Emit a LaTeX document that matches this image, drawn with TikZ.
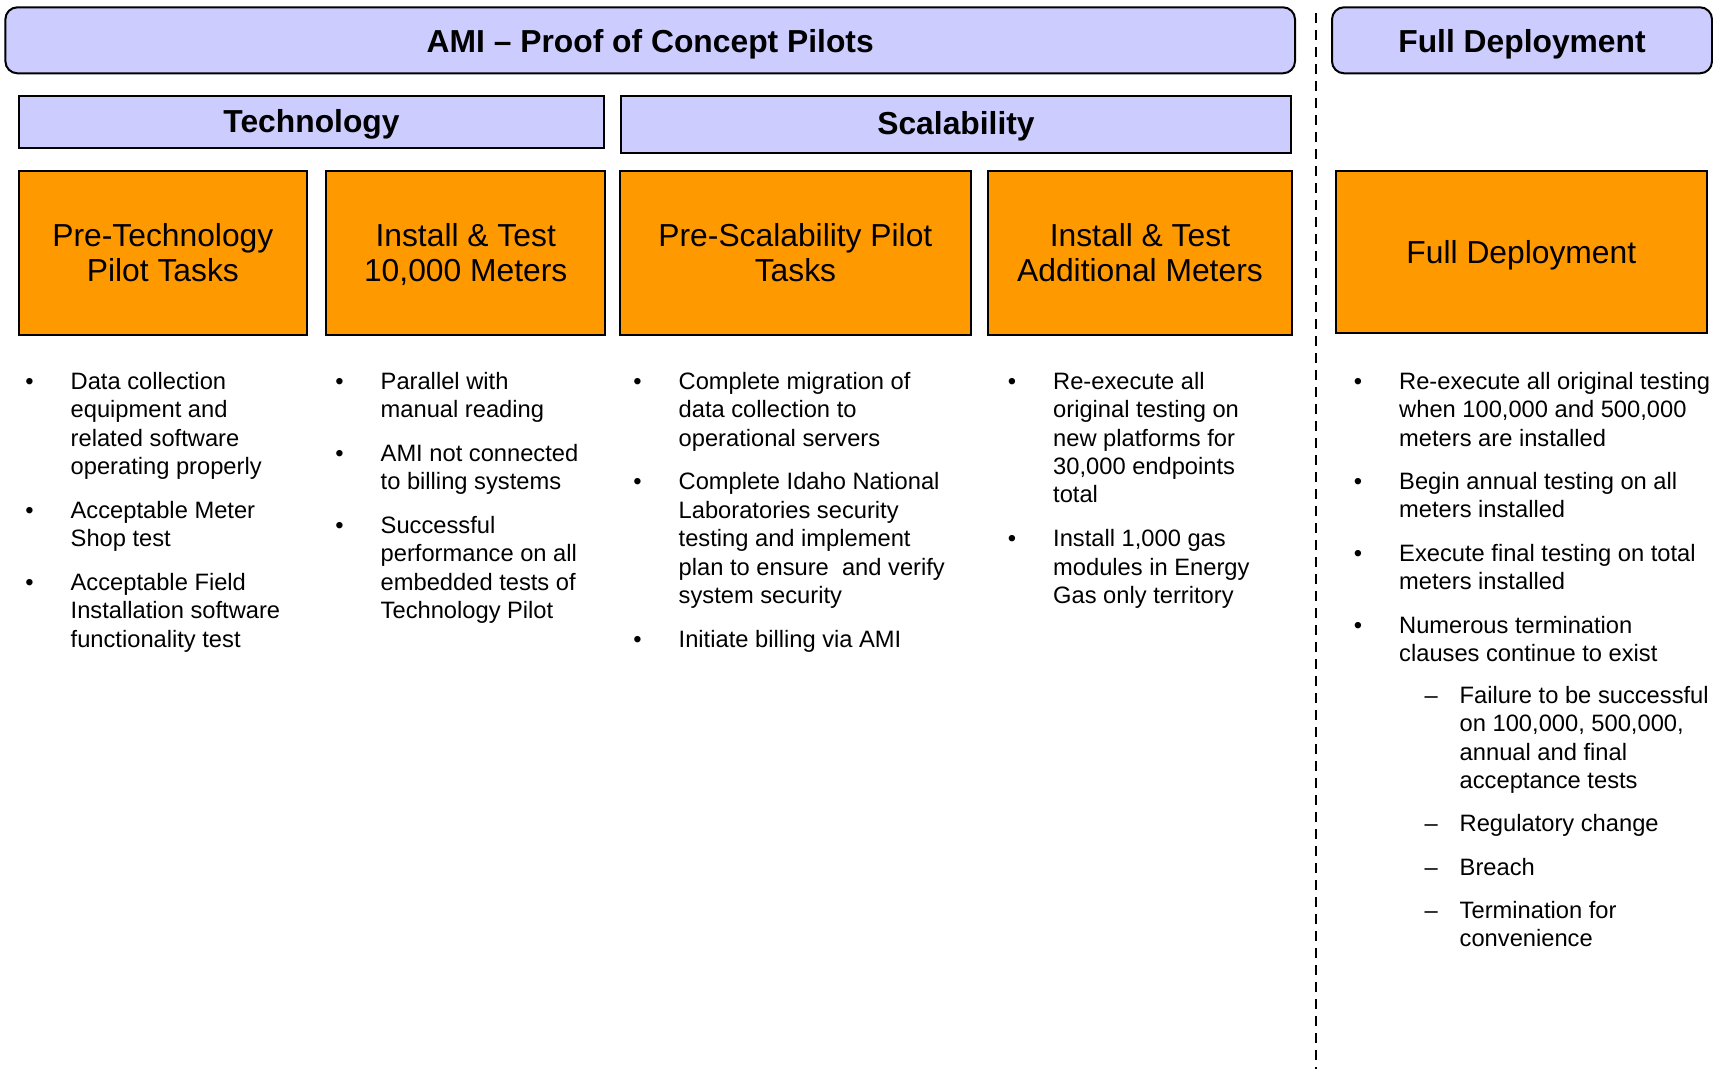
\documentclass[tikz,border=0pt]{standalone}
\usepackage{fontspec}
\setmainfont{Liberation Sans}
\definecolor{lav}{HTML}{CCCCFF}
\definecolor{org}{HTML}{FF9900}
\newcommand\fsB{\fontsize{23.7}{28.4}\selectfont}
\newcommand\fsO{\fontsize{31.8}{34.8}\selectfont}
\newcommand\fsT{\fontsize{31.8}{36}\selectfont\bfseries}
\newcommand\blt[1]{\makebox[45.3pt][l]{•}\begin{tabular}[t]{@{}l@{}}#1\end{tabular}}
\newcommand\dsh[1]{\makebox[35pt][l]{–}\begin{tabular}[t]{@{}l@{}}#1\end{tabular}}
\begin{document}
\begin{tikzpicture}[x=1pt,y=-1pt,
  banner/.style={draw=black, line width=2pt, fill=lav, rounded corners=12pt, font=\fsT, text height=25pt, text depth=0pt, inner sep=0pt},
  bar/.style={draw=black, line width=2pt, fill=lav, font=\fsT, text height=23pt, text depth=3pt, inner sep=0pt},
  task/.style={draw=black, line width=2pt, fill=org, font=\fsO, align=center, inner sep=0pt, text height=57.8pt, text depth=0pt},
  itm/.style={anchor=base west, inner sep=0pt, font=\fsB},
  sepline/.style={line width=2.5pt, dash pattern=on 10pt off 7pt}]
\useasboundingbox[fill=white] (0,0) rectangle (1713,1069);

% banners
\node[banner, minimum width=1289.6pt, minimum height=66pt] (ami) at (650.2,40.3) {AMI -- Proof of Concept Pilots};
\node[banner, minimum width=380pt, minimum height=66pt] (fdb) at (1522,40.3) {Full Deployment};
\node[bar, minimum width=585pt, minimum height=52pt] (tech) at (311.5,122) {Technology};
\node[bar, minimum width=670pt, minimum height=57pt] (scal) at (956,124.5) {Scalability};

% separator
\coordinate (sepA) at (1316,13);
\coordinate (sepB) at (1316,1069);
\draw[sepline] (sepA) -- (sepB);

% task boxes
\node[task, minimum width=288.3pt, minimum height=164.3pt] (t1) at (162.85,252.85) {Pre-Technology\\Pilot Tasks};
\node[task, minimum width=279.4pt, minimum height=164.3pt] (t2) at (465.7,252.85) {Install \& Test\\10,000 Meters};
\node[task, minimum width=350.2pt, minimum height=164.3pt] (t3) at (795.4,252.85) {Pre-Scalability Pilot\\Tasks};
\node[task, minimum width=303.1pt, minimum height=164.3pt] (t4) at (1139.95,252.85) {Install \& Test\\Additional Meters};
\node[task, minimum width=370.7pt, minimum height=162.3pt, text height=23pt, text depth=0pt] (t5) at (1521.35,251.85) {Full Deployment};

% column 1
\node[itm] (c1a) at (25.2,389.3) {\blt{Data collection\\equipment and\\related software\\operating properly}};
\node[itm] (c1b) at (25.2,518.2) {\blt{Acceptable Meter\\Shop test}};
\node[itm] (c1c) at (25.2,590.3) {\blt{Acceptable Field\\Installation software\\functionality test}};

% column 2
\node[itm] (c2a) at (335.2,389.3) {\blt{Parallel with\\manual reading}};
\node[itm] (c2b) at (335.2,461.4) {\blt{AMI not connected\\to billing systems}};
\node[itm] (c2c) at (335.2,533.5) {\blt{Successful\\performance on all\\embedded tests of\\Technology Pilot}};

% column 3
\node[itm] (c3a) at (633.2,389.3) {\blt{Complete migration of\\data collection to\\operational servers}};
\node[itm] (c3b) at (633.2,489.8) {\blt{Complete Idaho National\\Laboratories security\\testing and implement\\plan to ensure\ \ and verify\\system security}};
\node[itm] (c3c) at (633.2,647.1) {\blt{Initiate billing via AMI}};

% column 4
\node[itm] (c4a) at (1007.7,389.3) {\blt{Re-execute all\\original testing on\\new platforms for\\30,000 endpoints\\total}};
\node[itm] (c4b) at (1007.7,546.6) {\blt{Install 1,000 gas\\modules in Energy\\Gas only territory}};

% column 5
\node[itm] (c5a) at (1353.7,389.3) {\blt{Re-execute all original testing\\when 100,000 and 500,000\\meters are installed}};
\node[itm] (c5b) at (1353.7,489.3) {\blt{Begin annual testing on all\\meters installed}};
\node[itm] (c5c) at (1353.7,561.4) {\blt{Execute final testing on total\\meters installed}};
\node[itm] (c5d) at (1353.7,633.3) {\blt{Numerous termination\\clauses continue to exist}};
\node[itm] (s1) at (1424.5,703.3) {\dsh{Failure to be successful\\on 100,000, 500,000,\\annual and final\\acceptance tests}};
\node[itm] (s2) at (1424.5,831.7) {\dsh{Regulatory change}};
\node[itm] (s3) at (1424.5,875) {\dsh{Breach}};
\node[itm] (s4) at (1424.5,918.3) {\dsh{Termination for\\convenience}};
\end{tikzpicture}
\end{document}
